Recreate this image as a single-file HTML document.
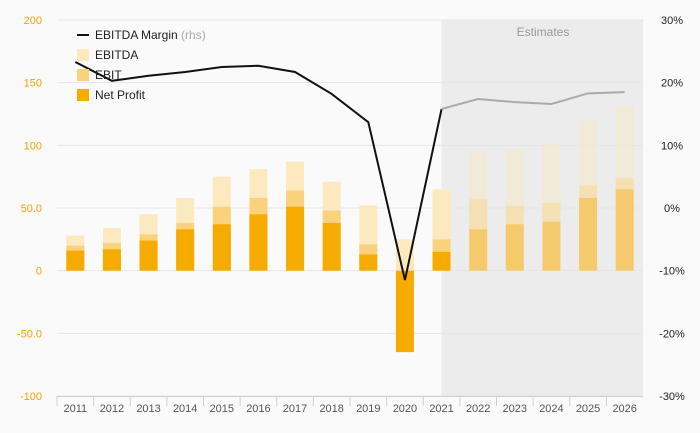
<!DOCTYPE html>
<html><head><meta charset="utf-8"><style>
body{margin:0;background:#fafafa;font-family:"Liberation Sans",sans-serif}
svg{display:block}
</style></head><body>
<svg id="c" width="700" height="433" xmlns="http://www.w3.org/2000/svg"></svg>
<script>
const years=["2011","2012","2013","2014","2015","2016","2017","2018","2019","2020","2021","2022","2023","2024","2025","2026"];
const ebitda=[28,34,45,58,75,81,87,71,52,25,65,95,97,102,120,131];
const ebit=[20,22,29,38,51,58,64,48,21,-5,25,57,52,54,68,74];
const netProfit=[16,17,24,33,37,45,51,38,13,-65,15,33,37,39,58,65];
const margin=[23.3,20.3,21.1,21.7,22.5,22.7,21.7,18.2,13.7,-11.5,15.8,17.4,16.9,16.6,18.3,18.5];
const leftTicks=[200,150,100,50,0,-50,-100];
const leftLabels=["200","150","100","50.0","0","-50.0","-100"];
const rightTicks=[30,20,10,0,-10,-20,-30];
const firstEstimate=11;

const svg=document.getElementById('c');const NS="http://www.w3.org/2000/svg";
const L=57,R=643,T=20,B=396;
const step=(R-L)/years.length;
const xc=i=>L+step*(i+0.5);
const yL=v=>T+(200-v)*(B-T)/300;
const yR=v=>T+(30-v)*(B-T)/60;
function el(t,a,txt){const e=document.createElementNS(NS,t);for(const k in a)e.setAttribute(k,a[k]);if(txt!==undefined)e.textContent=txt;svg.appendChild(e);return e;}
const sh=el('rect',{x:xc(10),y:T,width:R-xc(10),height:B-T,fill:'#ececec'});


const et=el('text',{x:543,y:36,'font-size':12,fill:'#999','text-anchor':'middle'},'Estimates');


leftTicks.forEach((v,i)=>{
 const g=el('line',{x1:L,x2:R,y1:yL(v),y2:yL(v),stroke:'#e6e6e6'});
 
 
 const t=el('text',{x:42,y:yL(v)+4,'font-size':11,fill:'#f0a500','text-anchor':'end'},leftLabels[i]);
 
 
});
rightTicks.forEach(v=>{
 const t=el('text',{x:672,y:yR(v)+4,'font-size':11,fill:'#222','text-anchor':'middle'},v+'%');
 
 
});
const ax=el('line',{x1:L,x2:R,y1:B+0.5,y2:B+0.5,stroke:'#ccd'});


years.forEach((y,i)=>{
 const tk=el('line',{x1:L+step*i,x2:L+step*i,y1:B,y2:B+10,stroke:'#ccd'});
 
 
 const t=el('text',{x:xc(i),y:B+16,'font-size':11,fill:'#555','text-anchor':'middle'},y);
 
 
});
const bw=18;
function bar(v,i,c,name){
 const y0=yL(0),y1=yL(v);
 const r=el('rect',{x:xc(i)-bw/2,y:Math.min(y0,y1),width:bw,height:Math.abs(y1-y0),fill:c,opacity:i>=firstEstimate?0.4:1});
 
 
}
years.forEach((y,i)=>{bar(ebitda[i],i,'#fde9bf','bar-ebitda');bar(ebit[i],i,'#fbd27c','bar-ebit');bar(netProfit[i],i,'#f5ab00','bar-net-profit');});
const pa=margin.slice(0,firstEstimate).map((v,i)=>xc(i)+','+yR(v)).join(' ');
const pb=margin.slice(firstEstimate-1).map((v,i)=>xc(i+firstEstimate-1)+','+yR(v)).join(' ');
const l1=el('polyline',{points:pa,fill:'none',stroke:'#111','stroke-width':2});


const l2=el('polyline',{points:pb,fill:'none',stroke:'#aaa','stroke-width':2});


const leg=[['line','#111','EBITDA Margin'],['sq','#fde9bf','EBITDA'],['sq','#fbd27c','EBIT'],['sq','#f5ab00','Net Profit']];
leg.forEach((d,i)=>{
 const y=35+i*20;
 if(d[0]=='line'){const m=el('line',{x1:77,x2:89,y1:y,y2:y,stroke:d[1],'stroke-width':2});}
 else{const m=el('rect',{x:77,y:y-6,width:12,height:12,fill:d[1]});}
 const t=el('text',{x:95,y:y+4,'font-size':12,fill:'#222'},d[2]);
 
 
 if(i==0){const s=document.createElementNS(NS,'tspan');s.setAttribute('fill','#aaa');s.textContent=' (rhs)';t.appendChild(s);}
});
</script>
</body></html>
